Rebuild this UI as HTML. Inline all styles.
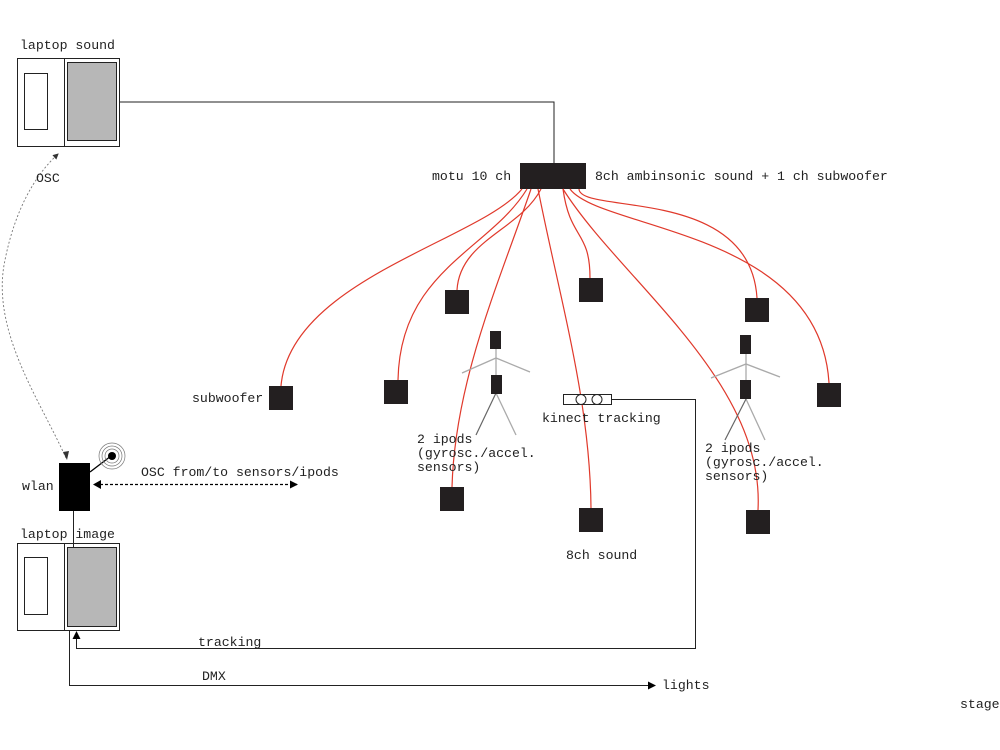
<!DOCTYPE html>
<html><head><meta charset="utf-8"><style>
html,body{margin:0;padding:0;background:#fff;width:1000px;height:750px;overflow:hidden}
text{font-family:"Liberation Mono",monospace;font-size:13.2px;fill:#222}
</style></head><body>
<svg width="1000" height="750" viewBox="0 0 1000 750" xmlns="http://www.w3.org/2000/svg">
<defs>
<marker id="ah" markerWidth="8" markerHeight="8" refX="7" refY="4" orient="auto" markerUnits="userSpaceOnUse"><path d="M0,0 L8,4 L0,8 z" fill="#000"/></marker>
<marker id="ahs" markerWidth="6" markerHeight="6" refX="5" refY="3" orient="auto" markerUnits="userSpaceOnUse"><path d="M0,0 L6,3 L0,6 z" fill="#333"/></marker>
</defs>
<text x="20" y="49">laptop sound</text>
<rect x="17.5" y="58.5" width="102" height="88" fill="#fff" stroke="#222"/>
<line x1="64.5" y1="58" x2="64.5" y2="146" stroke="#222"/>
<rect x="24.5" y="73.5" width="23" height="56" fill="#fff" stroke="#222"/>
<rect x="67.5" y="62.5" width="49" height="78" fill="#b7b7b7" stroke="#222"/>
<polyline points="120,102 554,102 554,163" fill="none" stroke="#222"/>
<rect x="520" y="163" width="66" height="26" fill="#231f20"/>
<text x="432" y="180">motu 10 ch</text>
<text x="595" y="180">8ch ambinsonic sound + 1 ch subwoofer</text>
<g fill="none" stroke="#e0392b" stroke-width="1.2">
<path d="M522,189 C480,240 290,280 281,386"/>
<path d="M527,189 C490,250 400,270 398,380"/>
<path d="M541,189 C520,230 460,240 457,290"/>
<path d="M531,189 C500,280 455,380 452,487"/>
<path d="M538,189 C560,300 590,400 591,508"/>
<path d="M563,189 C570,240 590,230 590,278"/>
<path d="M579,189 C580,215 750,185 757,298"/>
<path d="M570,189 C600,230 820,230 829,383"/>
<path d="M563,189 C620,280 765,380 758,510"/>
</g>
<g fill="#231f20">
<rect x="269" y="386" width="24" height="24"/>
<rect x="384" y="380" width="24" height="24"/>
<rect x="445" y="290" width="24" height="24"/>
<rect x="579" y="278" width="24" height="24"/>
<rect x="745" y="298" width="24" height="24"/>
<rect x="817" y="383" width="24" height="24"/>
<rect x="440" y="487" width="24" height="24"/>
<rect x="579" y="508" width="24" height="24"/>
<rect x="746" y="510" width="24" height="24"/>
</g>
<text x="192" y="402">subwoofer</text>
<text x="566" y="559">8ch sound</text>
<g stroke="#aaa" stroke-width="1.3" fill="none">
<polyline points="462,373 496,358 530,372"/>
<line x1="496" y1="349" x2="496" y2="376"/>
<line x1="496" y1="393" x2="516" y2="435"/>
<polyline points="711,378 746,364 780,377"/>
<line x1="746" y1="354" x2="746" y2="381"/>
<line x1="746" y1="399" x2="765" y2="440"/>
</g>
<line x1="496" y1="393" x2="476" y2="435" stroke="#666" stroke-width="1.2"/>
<line x1="746" y1="399" x2="725" y2="440" stroke="#666" stroke-width="1.2"/>
<g fill="#231f20">
<rect x="490" y="331" width="11" height="18"/>
<rect x="491" y="375" width="11" height="19"/>
<rect x="740" y="335" width="11" height="19"/>
<rect x="740" y="380" width="11" height="19"/>
</g>
<text x="417" y="443">2 ipods</text>
<text x="417" y="457">(gyrosc./accel.</text>
<text x="417" y="471">sensors)</text>
<text x="705" y="452">2 ipods</text>
<text x="705" y="466">(gyrosc./accel.</text>
<text x="705" y="480">sensors)</text>
<rect x="563.5" y="394.5" width="48" height="10" fill="#fff" stroke="#222"/>
<circle cx="581" cy="399.5" r="5" fill="#fff" stroke="#222"/>
<circle cx="597" cy="399.5" r="5" fill="#fff" stroke="#222"/>
<text x="542" y="422">kinect tracking</text>
<polyline points="612,399.5 695.5,399.5 695.5,648.5 76.5,648.5 76.5,632" fill="none" stroke="#222" marker-end="url(#ah)"/>
<text x="198" y="646">tracking</text>
<polyline points="69.5,630 69.5,685.5 655,685.5" fill="none" stroke="#222" marker-end="url(#ah)"/>
<text x="202" y="680">DMX</text>
<text x="662" y="689">lights</text>
<text x="960" y="708">stage</text>
<rect x="59" y="463" width="31" height="48" fill="#000"/>
<text x="22" y="490">wlan</text>
<line x1="90" y1="472" x2="111" y2="456" stroke="#000" stroke-width="1.3"/>
<circle cx="112" cy="456" r="4" fill="#000"/>
<circle cx="112" cy="456" r="7" fill="none" stroke="#777" stroke-width="0.7"/>
<circle cx="112" cy="456" r="10" fill="none" stroke="#777" stroke-width="0.7"/>
<circle cx="112" cy="456" r="13" fill="none" stroke="#777" stroke-width="0.7"/>
<line x1="100" y1="484.5" x2="297" y2="484.5" stroke="#000" stroke-dasharray="3,2" stroke-width="1.2" marker-end="url(#ah)"/>
<path d="M101,480 L93,484.5 L101,489 z" fill="#000"/>
<text x="141" y="476">OSC from/to sensors/ipods</text>
<line x1="73.5" y1="511" x2="73.5" y2="543" stroke="#222"/>
<text x="20" y="538">laptop image</text>
<rect x="17.5" y="543.5" width="102" height="87" fill="#fff" stroke="#222"/>
<line x1="64.5" y1="543" x2="64.5" y2="630" stroke="#222"/>
<rect x="24.5" y="557.5" width="23" height="57" fill="#fff" stroke="#222"/>
<rect x="67.5" y="547.5" width="49" height="79" fill="#b7b7b7" stroke="#222"/>
<line x1="73.5" y1="543" x2="73.5" y2="547" stroke="#222"/>
<path d="M66,458 C40,400 -10,330 5,260 C15,210 35,175 58,154" fill="none" stroke="#777" stroke-dasharray="2,2" stroke-width="0.9" marker-end="url(#ahs)"/>
<path d="M63,452 L67,460 L69,451 z" fill="#333"/>
<text x="36" y="182">OSC</text>
</svg>
</body></html>
